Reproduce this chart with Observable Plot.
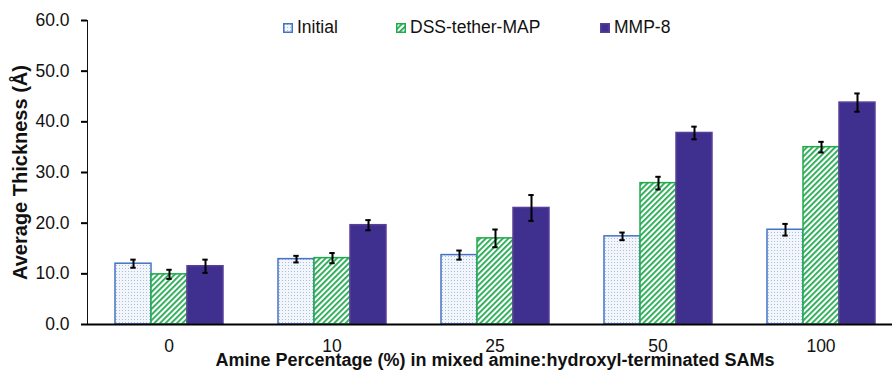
<!DOCTYPE html>
<html>
<head>
<meta charset="utf-8">
<script src="https://cdn.jsdelivr.net/npm/d3@7"></script>
<script src="https://cdn.jsdelivr.net/npm/@observablehq/plot@0.6"></script>
<style>
  body { margin: 0; background: #fff; font-family: "Liberation Sans", Arial, sans-serif; }
  #wrap { position: relative; width: 892px; height: 370px; overflow: hidden; }
  #legend { position: absolute; left: 0; top: 0; width: 892px; height: 40px; font-size: 17.5px; color: #111; }
  #legend .item { position: absolute; top: 17px; display: flex; align-items: center; line-height: 21px; }
  g[aria-label="y-axis label"] text { font-weight: bold; font-size: 20px; }
  g[aria-label="fx-axis label"] text { font-weight: bold; font-size: 18px; }
  g[aria-label*="y-axis"] path, g[aria-label*="y-axis"] line { stroke: #000; stroke-width: 2px; }
</style>
</head>
<body>
<svg width="0" height="0" style="position:absolute">
  <defs>
    <pattern id="dots" width="3" height="3" patternUnits="userSpaceOnUse">
      <rect width="3" height="3" fill="#f2f6fb"></rect>
      <rect x="1" y="1" width="1" height="1" fill="#a9c0e3"></rect>
    </pattern>
    <pattern id="hatch" width="4" height="4" patternUnits="userSpaceOnUse" patternTransform="rotate(45)">
      <rect width="4" height="4" fill="#ffffff"></rect>
      <rect x="0" y="0" width="1.8" height="4" fill="#22a94f"></rect>
    </pattern>
  </defs>
</svg>
<div id="wrap">
  <div id="chart"></div>
  <div id="legend"></div>
</div>
<script>
const groups = ["0", "10", "25", "50", "100"];
const series = ["Initial", "DSS-tether-MAP", "MMP-8"];
const initialValues = [12.0, 12.9, 13.7, 17.4, 18.7];
const initialErrors = [0.8, 0.65, 0.9, 0.75, 1.15];
const dssValues = [9.9, 13.1, 17.0, 27.9, 35.0];
const dssErrors = [0.9, 1.0, 1.75, 1.25, 1.05];
const mmpValues = [11.5, 19.6, 23.0, 37.8, 43.8];
const mmpErrors = [1.3, 1.0, 2.55, 1.25, 1.8];
const yTicks = [0, 10, 20, 30, 40, 50, 60];

const fills = {"Initial": "url(#dots)", "DSS-tether-MAP": "url(#hatch)", "MMP-8": "#3f2f8f"};
const strokes = {"Initial": "#4472c4", "DSS-tether-MAP": "#1faa4c", "MMP-8": "#5a3f98"};

const valueSets = [initialValues, dssValues, mmpValues];
const errorSets = [initialErrors, dssErrors, mmpErrors];
const data = groups.flatMap((g, i) => series.map((s, j) => ({
  group: g, series: s, value: valueSets[j][i], err: errorSets[j][i]
})));

const barMarks = series.map(s => Plot.barY(data, {
  filter: d => d.series === s,
  fx: "group", x: "series", y: "value",
  fill: fills[s], stroke: strokes[s], strokeWidth: 1.5
}));

const chart = Plot.plot({
  width: 892,
  height: 370,
  marginLeft: 86,
  marginRight: -11.5,
  marginTop: 20,
  marginBottom: 46,
  style: {fontFamily: "'Liberation Sans', Arial, sans-serif", fontSize: "17.5px", color: "#111"},
  fx: {domain: groups, padding: 0, label: "Amine Percentage (%) in mixed amine:hydroxyl-terminated SAMs",
       labelAnchor: "center", labelArrow: "none", tickSize: 0, tickPadding: 15, labelOffset: 41},
  x: {domain: series, paddingInner: 0, paddingOuter: 0.735, axis: null},
  y: {domain: [0, 60], ticks: yTicks, tickFormat: d => d.toFixed(1), tickSize: 6, tickPadding: 12,
      label: "Average Thickness (Å)", labelAnchor: "center", labelArrow: "none", labelOffset: 75, line: true},
  marks: [
    ...barMarks,
    Plot.ruleX(data, {fx: "group", x: "series", y1: d => d.value - d.err, y2: d => d.value + d.err, stroke: "#000", strokeWidth: 2}),
    Plot.tickY(data, {fx: "group", x: "series", y: d => d.value - d.err, stroke: "#000", strokeWidth: 2, insetLeft: 15.3, insetRight: 15.3}),
    Plot.tickY(data, {fx: "group", x: "series", y: d => d.value + d.err, stroke: "#000", strokeWidth: 2, insetLeft: 15.3, insetRight: 15.3}),
    Plot.ruleY([0], {stroke: "#000", strokeWidth: 2})
  ]
});
document.getElementById("chart").appendChild(chart);

const legend = document.getElementById("legend");
const legendLeft = [283, 396, 600];
series.forEach((s, i) => {
  const item = document.createElement("div");
  item.className = "item";
  item.style.left = legendLeft[i] + "px";
  const sw = document.createElementNS("http://www.w3.org/2000/svg", "svg");
  sw.setAttribute("width", 10); sw.setAttribute("height", 10);
  sw.style.marginRight = "4px";
  const r = document.createElementNS("http://www.w3.org/2000/svg", "rect");
  r.setAttribute("x", 0.75); r.setAttribute("y", 0.75); r.setAttribute("width", 8.5); r.setAttribute("height", 8.5);
  r.setAttribute("fill", fills[s]); r.setAttribute("stroke", strokes[s]); r.setAttribute("stroke-width", 1.5);
  sw.appendChild(r);
  const t = document.createElement("span");
  t.textContent = s;
  item.appendChild(sw); item.appendChild(t);
  legend.appendChild(item);
});
</script>
</body>
</html>
